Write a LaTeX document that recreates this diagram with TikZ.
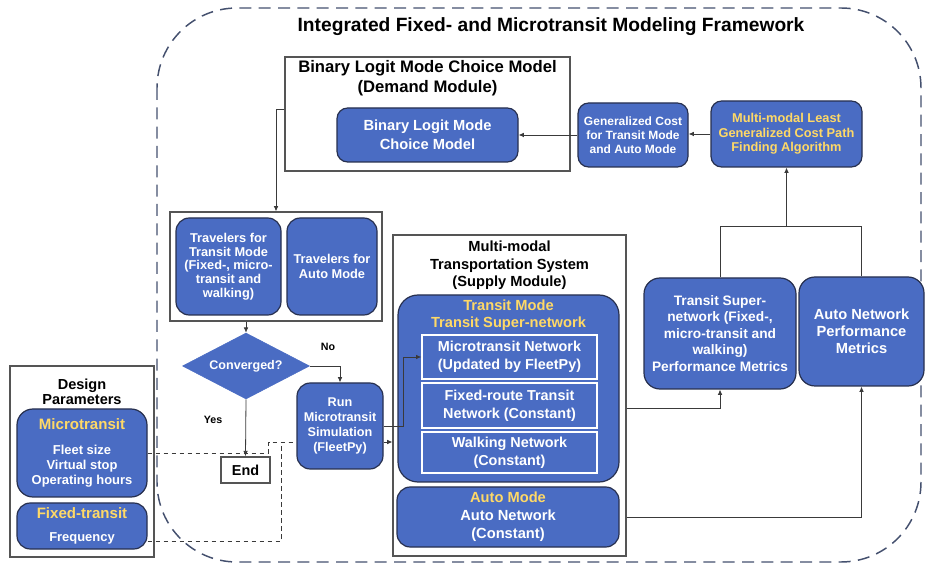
\documentclass[tikz,border=0pt]{standalone}
\usepackage{fontspec}
\setmainfont{Liberation Sans}
\usepackage{xcolor}
\usepackage{tikz}
\usetikzlibrary{shapes.geometric, arrows.meta, positioning, calc}
\definecolor{nodeblue}{HTML}{4A6CC3}
\definecolor{edgenavy}{HTML}{27304F}
\definecolor{labelgold}{HTML}{FFD966}
\definecolor{framegray}{HTML}{555555}
\definecolor{linkgray}{HTML}{3A3A3A}
\definecolor{dashnavy}{HTML}{44506E}
\newcommand{\fsz}[2]{\fontsize{#1}{#2}\selectfont}

\begin{document}
\begin{tikzpicture}[x=0.75pt, y=-0.75pt, font=\bfseries]
    \tikzstyle{block} = [rectangle, rounded corners=8pt, draw=edgenavy, line width=0.9pt, fill=nodeblue,
      text=white, align=center, inner sep=1pt]
    \tikzstyle{netbox} = [rectangle, draw=white, line width=1pt, fill=nodeblue, text=white, align=center,
      minimum width=131.25pt, inner sep=1pt, font=\bfseries\fsz{10.8}{13.5}]
    \tikzstyle{module} = [rectangle, draw=framegray, line width=0.9pt, fill=white]
    \tikzstyle{heading} = [align=center, text=black]
    \tikzstyle{conn} = [draw=linkgray, line width=0.6pt]
    \tikzstyle{flow} = [conn, -{Latex[length=4pt, width=3.5pt]}]
    \tikzstyle{paramline} = [conn, dash pattern=on 3.5pt off 2.5pt]

    \useasboundingbox (0,0) rectangle (925,566);
    \draw[dashnavy, line width=1.1pt, dash pattern=on 9pt off 5.5pt, rounded corners=60pt] (157,8) rectangle (921,562);
    \node (title) at (551,27) [heading, font=\bfseries\fsz{14.4}{17}] {Integrated Fixed- and Microtransit Modeling Framework};

    % demand module
    \node (demandbox) at (427.5,114) [module, minimum width=213.75pt, minimum height=85.5pt] {};
    \node (demandlbl) at (427.5,78) [heading, font=\bfseries\fsz{12.5}{15}] {Binary Logit Mode Choice Model\\(Demand Module)};
    \node (logit) at (427.5,135) [block, minimum width=135.75pt, minimum height=40.5pt, font=\bfseries\fsz{11}{14.25}]
      {Binary Logit Mode\\Choice Model};
    \node (gencost) at (633,135) [block, minimum width=82.5pt, minimum height=48pt, font=\bfseries\fsz{9}{10.5}]
      {Generalized Cost\\for Transit Mode\\and Auto Mode};
    \node (pathfind) at (786.5,134) [block, text=labelgold, minimum width=113.25pt, minimum height=49.5pt,
      font=\bfseries\fsz{9.6}{10.8}] {Multi-modal Least\\Generalized Cost Path\\Finding Algorithm};

    % travelers and loop
    \node (travbox) at (276,266.5) [module, minimum width=159pt, minimum height=81.75pt] {};
    \node (trvtransit) at (228.5,266.5) [block, rounded corners=10pt, minimum width=78.75pt, minimum height=72.75pt,
      font=\bfseries\fsz{9.6}{10.3}] {Travelers for\\Transit Mode\\(Fixed-, micro-\\transit and\\walking)};
    \node (trvauto) at (332,266.5) [block, rounded corners=10pt, minimum width=67.5pt, minimum height=72.75pt,
      font=\bfseries\fsz{9.6}{10.8}] {Travelers for\\Auto Mode};
    \node (converged) at (246,366) [diamond, aspect=2, fill=nodeblue, draw=nodeblue, text=white, inner sep=0pt,
      minimum width=95.25pt, minimum height=49.5pt, font=\bfseries\fsz{9.4}{11}] {Converged?};
    \node (end) at (245.5,470) [rectangle, draw=framegray, line width=1.2pt, fill=white, minimum width=36.75pt,
      minimum height=19.5pt, inner sep=0pt, font=\bfseries\fsz{10.8}{12}] {End};
    \node (run) at (340,426) [block, rounded corners=10pt, minimum width=64.5pt, minimum height=64.5pt,
      font=\bfseries\fsz{9.5}{11.25}] {Run\\Microtransit\\Simulation\\(FleetPy)};

    % supply module
    \node (supplybox) at (509.5,395.5) [module, minimum width=174.75pt, minimum height=240.75pt] {};
    \node (supplylbl) at (509.5,265.5) [heading, font=\bfseries\fsz{11}{13.1}] {Multi-modal\\Transportation System\\(Supply Module)};
    \node (transitmode) at (508.5,388.5) [block, rounded corners=15pt, minimum width=165.75pt, minimum height=140.25pt] {};
    \node (transitlbl) at (508.5,315.5) [heading, text=labelgold, font=\bfseries\fsz{11}{12.75}] {Transit Mode\\Transit Super-network};
    \node (micronet) at (509.5,357) [netbox, minimum height=33pt] {Microtransit Network\\(Updated by FleetPy)};
    \node (fixednet) at (509.5,405.5) [netbox, minimum height=33.75pt] {Fixed-route Transit\\Network (Constant)};
    \node (walknet) at (509.5,452.5) [netbox, minimum height=30.75pt] {Walking Network\\(Constant)};
    \node (automode) at (508,517) [block, rounded corners=10pt, minimum width=166.5pt, minimum height=45pt,
      font=\bfseries\fsz{11}{13.5}] {\textcolor{labelgold}{Auto Mode}\\Auto Network\\(Constant)};

    % performance metrics
    \node (tsuper) at (720,333.5) [block, rounded corners=12pt, minimum width=114pt, minimum height=83.25pt,
      font=\bfseries\fsz{10.3}{12.4}] {Transit Super-\\network (Fixed-,\\micro-transit and\\walking)\\Performance Metrics};
    \node (autoperf) at (861.5,331.5) [block, rounded corners=12pt, minimum width=93.75pt, minimum height=81.75pt,
      font=\bfseries\fsz{11}{12.75}] {Auto Network\\Performance\\Metrics};

    % design parameters
    \node (designbox) at (82,461.5) [module, minimum width=108pt, minimum height=143.25pt] {};
    \node (designlbl) at (82,391.5) [heading, font=\bfseries\fsz{10.9}{11.5}] {Design\\Parameters};
    \node (microparam) at (82,453) [block, rounded corners=12pt, minimum width=97.5pt, minimum height=66pt,
      font=\bfseries\fsz{9.7}{11.25}] {{\fsz{11.3}{12}\textcolor{labelgold}{Microtransit}}\\[8pt]Fleet size\\Virtual stop\\Operating hours};
    \node (fixedparam) at (82,526) [block, rounded corners=10pt, minimum width=97.5pt, minimum height=34.5pt,
      font=\bfseries\fsz{9.7}{11.25}] {{\fsz{11.3}{12}\textcolor{labelgold}{Fixed-transit}}\\[6pt]Frequency};

    % connectors
    \draw[flow] (pathfind.west) -- (pathfind.west -| gencost.east);
    \draw[flow] (gencost.west) -- (logit.east);
    \draw[flow] ([yshift=3.75pt]demandbox.west) -| (travbox.north);
    \draw[flow] (converged.north |- travbox.south) -- (converged.north);
    \draw[flow] (converged.east) -| node[pos=0.3, above=8pt, font=\bfseries\fsz{8}{9}] {No} (run.north);
    \draw[flow] (converged.south) -- node[pos=0.36, left=14pt, font=\bfseries\fsz{8}{9}] {Yes} (end.north);
    \draw[flow] (run.east) -- ++(20,0) |- (micronet.west);
    \path ([yshift=-12pt]run.east) coordinate (feedout);
    \coordinate (feedin) at (feedout -| supplybox.west);
    \draw[flow] (feedout) -- (feedin);
    \coordinate (runin) at ([yshift=-12pt]run.west);
    \draw[paramline] (microparam.east) -- ++(121,0) |- (runin);
    \draw[paramline] ([yshift=-11.25pt]fixedparam.east) -- ++(134,0) |- (runin);
    \draw[flow] ([yshift=-10pt]supplybox.east) -| (tsuper.south);
    \draw[flow] (automode -| supplybox.east) -| (autoperf.south);
    \draw[conn] (tsuper.north) -- ++(0,-51) -| (autoperf.north);
    \coordinate (merge) at (786.5,227);
    \draw[flow] (merge) -- (pathfind.south);
\end{tikzpicture}
\end{document}
